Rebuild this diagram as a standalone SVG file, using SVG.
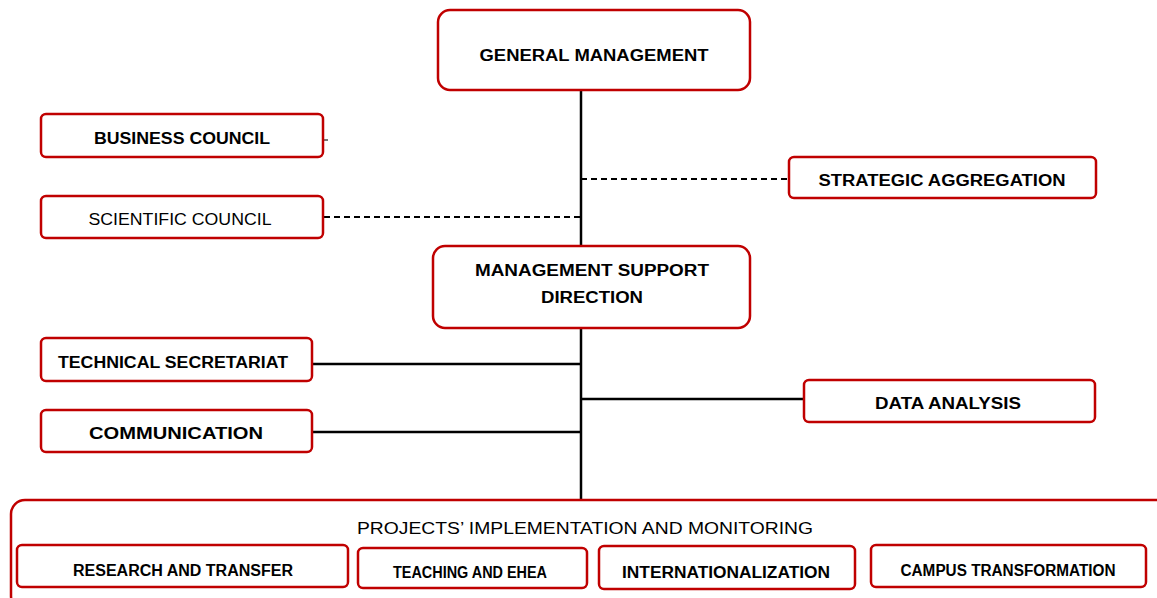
<svg xmlns="http://www.w3.org/2000/svg" width="1157" height="598" viewBox="0 0 1157 598">
<style>
.box{fill:#fff;stroke:#c00000;stroke-width:2.5}
.t{font-family:"Liberation Sans",Arial,sans-serif;font-weight:bold;font-size:16px;fill:#000;text-anchor:middle}
.ln{stroke:#000;stroke-width:2.5;fill:none}
.dl{stroke:#000;stroke-width:2;fill:none;stroke-dasharray:6 4}
</style>
<rect width="1157" height="598" fill="#fff"/>
<g id="connectors">
<line class="ln" x1="581" y1="90" x2="581" y2="246"/>
<line class="ln" x1="581" y1="328" x2="581" y2="500"/>
<line class="dl" x1="324" y1="217" x2="581" y2="217"/>
<line class="dl" x1="581" y1="179" x2="789" y2="179"/>
<line class="ln" x1="312" y1="364" x2="581" y2="364"/>
<line class="ln" x1="312" y1="432" x2="581" y2="432"/>
<line class="ln" x1="581" y1="399" x2="804" y2="399"/>
<line x1="324" y1="140" x2="328" y2="140" stroke="#777" stroke-width="2"/>
</g>
<g id="general-management">
<rect class="box" x="438" y="10" width="312" height="80" rx="12"/>
<text class="t" x="594" y="61" textLength="229" lengthAdjust="spacingAndGlyphs">GENERAL MANAGEMENT</text>
</g>
<g id="business-council">
<rect class="box" x="41" y="114" width="282" height="43" rx="5"/>
<text class="t" x="182" y="144" textLength="176" lengthAdjust="spacingAndGlyphs">BUSINESS COUNCIL</text>
</g>
<g id="scientific-council">
<rect class="box" x="41" y="196" width="282" height="42" rx="5"/>
<text class="t" x="180" y="225" font-weight="normal" style="font-weight:normal" textLength="183" lengthAdjust="spacingAndGlyphs">SCIENTIFIC COUNCIL</text>
</g>
<g id="strategic-aggregation">
<rect class="box" x="789" y="157" width="307" height="41" rx="5"/>
<text class="t" x="942" y="186" textLength="247" lengthAdjust="spacingAndGlyphs">STRATEGIC AGGREGATION</text>
</g>
<g id="management-support-direction">
<rect class="box" x="433" y="246" width="317" height="82" rx="12"/>
<text class="t" x="592" y="276" textLength="234" lengthAdjust="spacingAndGlyphs">MANAGEMENT SUPPORT</text>
<text class="t" x="592" y="303" textLength="102" lengthAdjust="spacingAndGlyphs">DIRECTION</text>
</g>
<g id="technical-secretariat">
<rect class="box" x="41" y="338" width="271" height="43" rx="5"/>
<text class="t" x="173" y="368" textLength="230" lengthAdjust="spacingAndGlyphs">TECHNICAL SECRETARIAT</text>
</g>
<g id="communication">
<rect class="box" x="41" y="410" width="271" height="42" rx="5"/>
<text class="t" x="176" y="439" textLength="174" lengthAdjust="spacingAndGlyphs">COMMUNICATION</text>
</g>
<g id="data-analysis">
<rect class="box" x="804" y="380" width="291" height="42" rx="5"/>
<text class="t" x="948" y="409" textLength="146" lengthAdjust="spacingAndGlyphs">DATA ANALYSIS</text>
</g>
<g id="projects">
<rect class="box" x="11" y="500" width="1160" height="110" rx="14"/>
<text class="t" x="585" y="534" style="font-weight:normal" textLength="456" lengthAdjust="spacingAndGlyphs">PROJECTS’ IMPLEMENTATION AND MONITORING</text>
</g>
<g id="research-and-transfer">
<rect class="box" x="17" y="545" width="331" height="42" rx="5"/>
<text class="t" x="183" y="576" textLength="220" lengthAdjust="spacingAndGlyphs">RESEARCH AND TRANSFER</text>
</g>
<g id="teaching-and-ehea">
<rect class="box" x="358" y="548" width="229" height="40" rx="5"/>
<text class="t" x="470" y="578" textLength="154" lengthAdjust="spacingAndGlyphs">TEACHING AND EHEA</text>
</g>
<g id="internationalization">
<rect class="box" x="599" y="546" width="256" height="43" rx="5"/>
<text class="t" x="726" y="578" textLength="208" lengthAdjust="spacingAndGlyphs">INTERNATIONALIZATION</text>
</g>
<g id="campus-transformation">
<rect class="box" x="871" y="545" width="275" height="42" rx="5"/>
<text class="t" x="1008" y="576" textLength="215" lengthAdjust="spacingAndGlyphs">CAMPUS TRANSFORMATION</text>
</g>
</svg>
